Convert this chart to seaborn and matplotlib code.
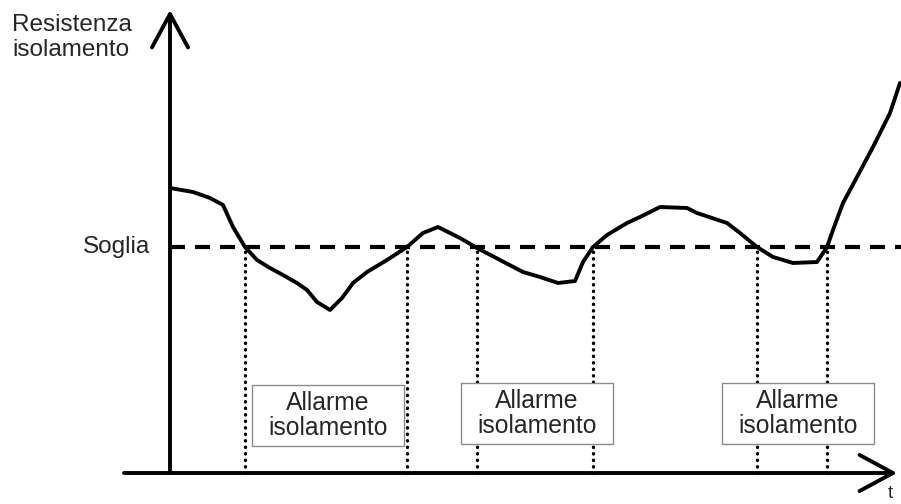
import matplotlib
matplotlib.use("Agg")
import matplotlib.pyplot as plt
import seaborn as sns
import pandas as pd
from matplotlib.patches import Rectangle

# insulation resistance vs time (arbitrary units)
time = [0, 23, 40, 53, 63, 75, 87, 100, 113, 127, 137, 147, 160, 172, 183, 197,
        217, 237, 253, 268, 290, 307, 330, 353, 370, 388, 405, 413, 423, 437,
        457, 470, 490, 517, 527, 557, 570, 587, 603, 623, 647, 657, 663, 673,
        687, 703, 720, 730]
resistance = [285, 281, 275, 268, 246, 226, 213, 205, 198, 190, 183, 171, 163,
              175, 190, 201, 213, 226, 240, 246, 235, 225, 213, 201, 196, 190,
              192, 211, 226, 238, 250, 256, 266, 265, 260, 250, 240, 226, 216,
              210, 211, 226, 243, 270, 296, 326, 360, 390]
threshold = 226
crossings = [75, 237, 307, 423, 587, 657]
alarm_label = "Allarme\nisolamento"

data = pd.DataFrame({"t": time, "R": resistance})

sns.set_theme(style="white")
plt.rcParams["font.family"] = ["Liberation Sans", "DejaVu Sans"]

fig = plt.figure(figsize=(9.01, 5.04), dpi=100)
ax = fig.add_axes([0, 0, 1, 1])
ax.set_xlim(-170, 731)
ax.set_ylim(-31, 473)
ax.axis("off")

# curve
sns.lineplot(data=data, x="t", y="R", ax=ax, color="black", lw=2.8,
             estimator=None, sort=False)

# threshold
ax.axhline(threshold, xmin=(0 + 170) / 901, color="black", lw=3,
           linestyle=(0, (3.6, 2.4)))

# alarm markers
for c in crossings:
    ax.plot([c, c], [0, threshold], color="black", lw=2.4,
            linestyle=(0, (0.1, 1.85)), dash_capstyle="round")

# axes arrows
arrow = dict(arrowstyle="->,head_length=1.2,head_width=0.65", lw=2.8,
             color="black", mutation_scale=20, shrinkA=0, shrinkB=0)
ax.annotate("", xy=(0, 463), xytext=(0, 0), arrowprops=arrow)
ax.annotate("", xy=(727, 0), xytext=(-46, 0), arrowprops=arrow)

# alarm boxes
boxes = [(82, 27), (291, 29), (552, 29)]
for bx, by in boxes:
    ax.add_patch(Rectangle((bx, by), 152, 61, facecolor="white",
                           edgecolor="#8c8c8c", lw=1, zorder=3))
    ax.text(bx + 76, by + 30.5, alarm_label, ha="center", va="center",
            fontsize=17.8, zorder=4, linespacing=1.1)

ax.text(-158, 459, "Resistenza\nisolamento", ha="left", va="top",
        fontsize=17.5, linespacing=1.15)
ax.text(-20, threshold, "Soglia", ha="right", va="center", fontsize=17.5)
ax.text(720, -21, "t", ha="center", va="center", fontsize=13)

fig.savefig("out.png", dpi=100)
